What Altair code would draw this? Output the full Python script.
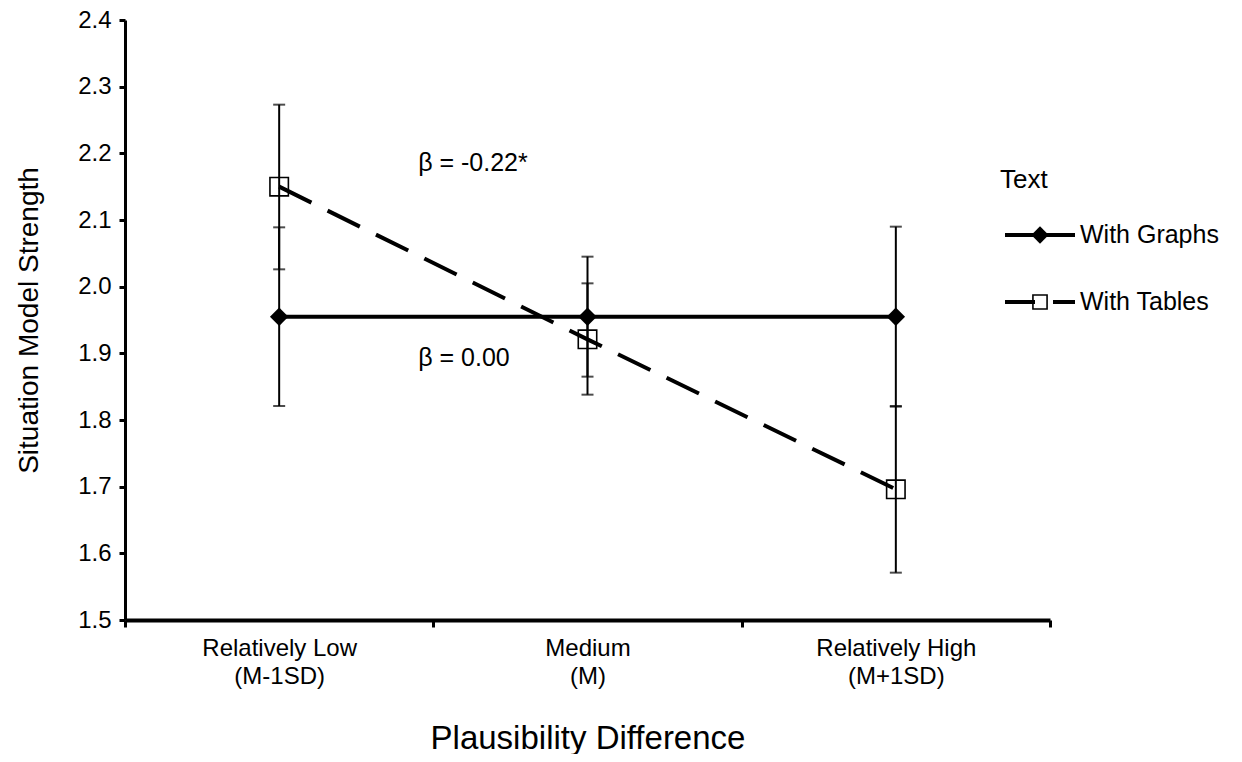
import altair as alt
import pandas as pd

categories = ["Relatively Low|(M-1SD)", "Medium|(M)", "Relatively High|(M+1SD)"]
series = ["With Graphs", "With Tables"]
graphs_mean = [1.955, 1.955, 1.955]
graphs_low = [1.821, 1.865, 1.820]
graphs_high = [2.089, 2.045, 2.090]
tables_mean = [2.150, 1.921, 1.696]
tables_low = [2.026, 1.838, 1.571]
tables_high = [2.273, 2.005, 1.821]
annotations = ["β = -0.22*", "β = 0.00"]
annotation_y = [2.185, 1.893]
y_ticks = [1.5, 1.6, 1.7, 1.8, 1.9, 2.0, 2.1, 2.2, 2.3, 2.4]

rows = []
for i, c in enumerate(categories):
    rows.append({"cat": c, "series": series[0], "mean": graphs_mean[i], "lo": graphs_low[i], "hi": graphs_high[i]})
    rows.append({"cat": c, "series": series[1], "mean": tables_mean[i], "lo": tables_low[i], "hi": tables_high[i]})
df = pd.DataFrame(rows)
ann = pd.DataFrame({"cat": [categories[0]] * 2, "label": annotations, "mean": annotation_y})

FONT = "Liberation Sans"
W, H = 925, 600

xs = alt.X("cat:N", sort=categories,
           scale=alt.Scale(domain=categories, paddingInner=0, paddingOuter=0),
           axis=alt.Axis(title="Plausibility Difference", tickBand="extent",
                         labelExpr="split(datum.label, '|')", labelAngle=0,
                         labelFont=FONT, labelFontSize=24, labelColor="black",
                         labelLineHeight=28, labelPadding=9,
                         titleFont=FONT, titleFontSize=33, titleFontWeight="normal",
                         titleColor="black", titlePadding=34,
                         domainColor="black", domainWidth=4,
                         tickColor="black", tickWidth=3, tickSize=7))

yscale = alt.Scale(domain=[1.5, 2.4], nice=False, zero=False)
yaxis = alt.Axis(title="Situation Model Strength", values=y_ticks, format=".1f",
                 labelFont=FONT, labelFontSize=24, labelColor="black", labelPadding=8,
                 titleFont=FONT, titleFontSize=28, titleFontWeight="normal",
                 titleColor="black", titlePadding=34,
                 domainColor="black", domainWidth=3,
                 tickColor="black", tickWidth=3, tickSize=6, grid=False)


def Y(field):
    return alt.Y(field, scale=yscale, axis=yaxis, title="Situation Model Strength")


base = alt.Chart(df)
g = base.transform_filter(alt.datum.series == series[0])
t = base.transform_filter(alt.datum.series == series[1])

err_rule = base.mark_rule(color="black", strokeWidth=2).encode(x=xs, y=Y("lo:Q"), y2="hi:Q")
cap_lo = base.mark_tick(color="black", thickness=2, size=12).encode(x=xs, y=Y("lo:Q"))
cap_hi = base.mark_tick(color="black", thickness=2, size=12).encode(x=xs, y=Y("hi:Q"))

g_line = g.mark_line(color="black", strokeWidth=4).encode(x=xs, y=Y("mean:Q"))
t_line = t.mark_line(color="black", strokeWidth=4, strokeDash=[36, 18]).encode(x=xs, y=Y("mean:Q"))
g_pt = g.mark_point(shape="diamond", filled=True, color="black", size=340, opacity=1).encode(x=xs, y=Y("mean:Q"))
t_pt = t.mark_point(shape="square", filled=False, color="black", size=340, strokeWidth=1.6, opacity=1).encode(x=xs, y=Y("mean:Q"))

ann_text = alt.Chart(ann).mark_text(font=FONT, fontSize=25, align="left", baseline="middle", dx=139, color="black").encode(
    x=xs, y=Y("mean:Q"), text="label:N")

# legend (drawn manually, outside the data area)
leg_title = alt.Chart(pd.DataFrame({"t": ["Text"]})).mark_text(font=FONT, fontSize=26, align="left", baseline="middle", color="black").encode(
    x=alt.value(875), y=alt.value(160), text="t:N")
leg_g_line = alt.Chart(pd.DataFrame({"name": [series[0]]})).mark_rule(color="black", strokeWidth=4).encode(
    x=alt.value(880), x2=alt.value(950), y=alt.value(215))
leg_g_pt = alt.Chart(pd.DataFrame({"name": [series[0]]})).mark_point(shape="diamond", filled=True, color="black", size=300, opacity=1).encode(
    x=alt.value(915), y=alt.value(215))
leg_g_text = alt.Chart(pd.DataFrame({"name": [series[0]]})).mark_text(font=FONT, fontSize=25, align="left", baseline="middle", color="black").encode(
    x=alt.value(955), y=alt.value(215), text="name:N")
leg_t_line = alt.Chart(pd.DataFrame({"name": [series[1]]})).mark_rule(color="black", strokeWidth=4, strokeDash=[30, 18]).encode(
    x=alt.value(880), x2=alt.value(950), y=alt.value(282))
leg_t_pt = alt.Chart(pd.DataFrame({"name": [series[1]]})).mark_point(shape="square", filled=False, color="black", size=200, strokeWidth=1.6, opacity=1).encode(
    x=alt.value(915), y=alt.value(282))
leg_t_text = alt.Chart(pd.DataFrame({"name": [series[1]]})).mark_text(font=FONT, fontSize=25, align="left", baseline="middle", color="black").encode(
    x=alt.value(955), y=alt.value(282), text="name:N")

chart = alt.layer(err_rule, cap_lo, cap_hi, g_line, t_line, g_pt, t_pt, ann_text,
                  leg_title, leg_g_line, leg_g_pt, leg_g_text, leg_t_line, leg_t_pt, leg_t_text).properties(
    width=W, height=H,
    background="white",
    autosize=alt.AutoSizeParams(type="none"),
    padding={"left": 117, "top": 12, "right": 180, "bottom": 134},
).configure_view(stroke=None, strokeWidth=0)

chart.save("out.html", embed_options={"renderer": "svg", "actions": False})
